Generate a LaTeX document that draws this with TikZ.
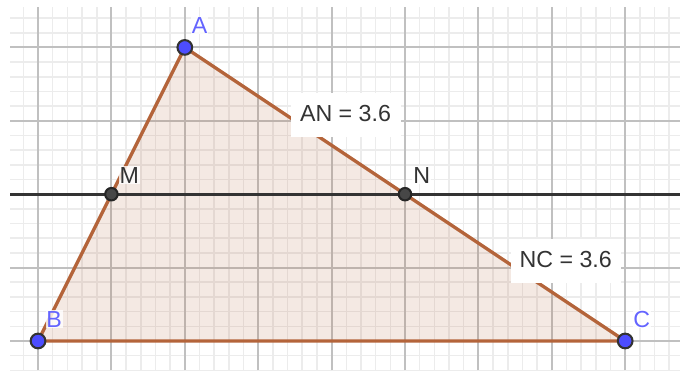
\documentclass[tikz,border=0pt]{standalone}
\usepackage{fontspec}
\setmainfont{Liberation Sans}
\usepackage{xcolor}
\definecolor{ggbrown}{RGB}{180,100,58}
\definecolor{ggblue}{RGB}{77,77,255}
\definecolor{gglabel}{RGB}{100,100,255}
\definecolor{ggdark}{RGB}{51,51,51}
\definecolor{ggmajor}{RGB}{192,192,192}
\definecolor{ggminor}{RGB}{236,236,236}
\usetikzlibrary{positioning}
\tikzset{
  minorgrid/.style={ggminor,line width=0.6pt,step=0.2},
  majorgrid/.style={ggmajor,line width=0.8pt,step=1},
  edge/.style={ggbrown,line width=1.3pt,line cap=round},
  ptlabel/.style={anchor=base west,font=\fontsize{9}{10}\selectfont,fill=white,fill opacity=0.8,text opacity=1,inner sep=0.3pt},
  lenbox/.style={anchor=base west,fill=white,inner sep=0pt,minimum width=1.5cm,
    text height=0.395cm,text depth=0.204cm,font=\fontsize{9}{10}\selectfont,text=ggdark}
}
\begin{document}
\begin{tikzpicture}
  \useasboundingbox (-0.518,-0.409) rectangle (8.747,4.646);
  \begin{scope}
    \clip (-0.381,-0.409) rectangle (8.747,4.55);
    \draw[minorgrid] (-0.4,-0.4) grid (8.8,4.6);
    \draw[majorgrid] (-0.4,-0.4) grid (8.8,4.6);
  \end{scope}
  % triangle
  \coordinate (B) at (0,0);
  \coordinate (C) at (8,0);
  \coordinate (A) at (2,4);
  \coordinate (M) at (1,2);
  \coordinate (N) at (5,2);
  \coordinate (lineW) at (-0.381,2);
  \coordinate (lineE) at (8.747,2);
  \fill[ggbrown,fill opacity=0.14] (A) -- (B) -- (C) -- cycle;
  \draw[ggdark,line width=1.3pt] (lineW) -- (M) -- (N) -- (lineE);
  \draw[edge] (A) -- (B) -- (C) -- cycle;
  % lengths
  \node[lenbox] (AN) at (3.433,2.984) {AN = 3.6};
  \node[lenbox] (NC) at (6.433,0.995) {NC = 3.6};
  % points
  \foreach \p in {A,B,C}{
    \fill[ggblue,draw=ggdark,line width=0.8pt] (\p) circle(0.1);
  }
  \foreach \p in {M,N}{
    \fill[ggdark!90,draw=black!85,line width=0.8pt] (\p) circle(0.085);
  }
  \node[ptlabel,text=gglabel] (lA) at (2.08,4.19) {A};
  \node[ptlabel,text=gglabel] (lB) at (0.095,0.19) {B};
  \node[ptlabel,text=gglabel] (lC) at (8.095,0.19) {C};
  \node[ptlabel,text=ggdark] (lM) at (1.095,2.15) {M};
  \node[ptlabel,text=ggdark] (lN) at (5.095,2.15) {N};
\end{tikzpicture}
\end{document}
